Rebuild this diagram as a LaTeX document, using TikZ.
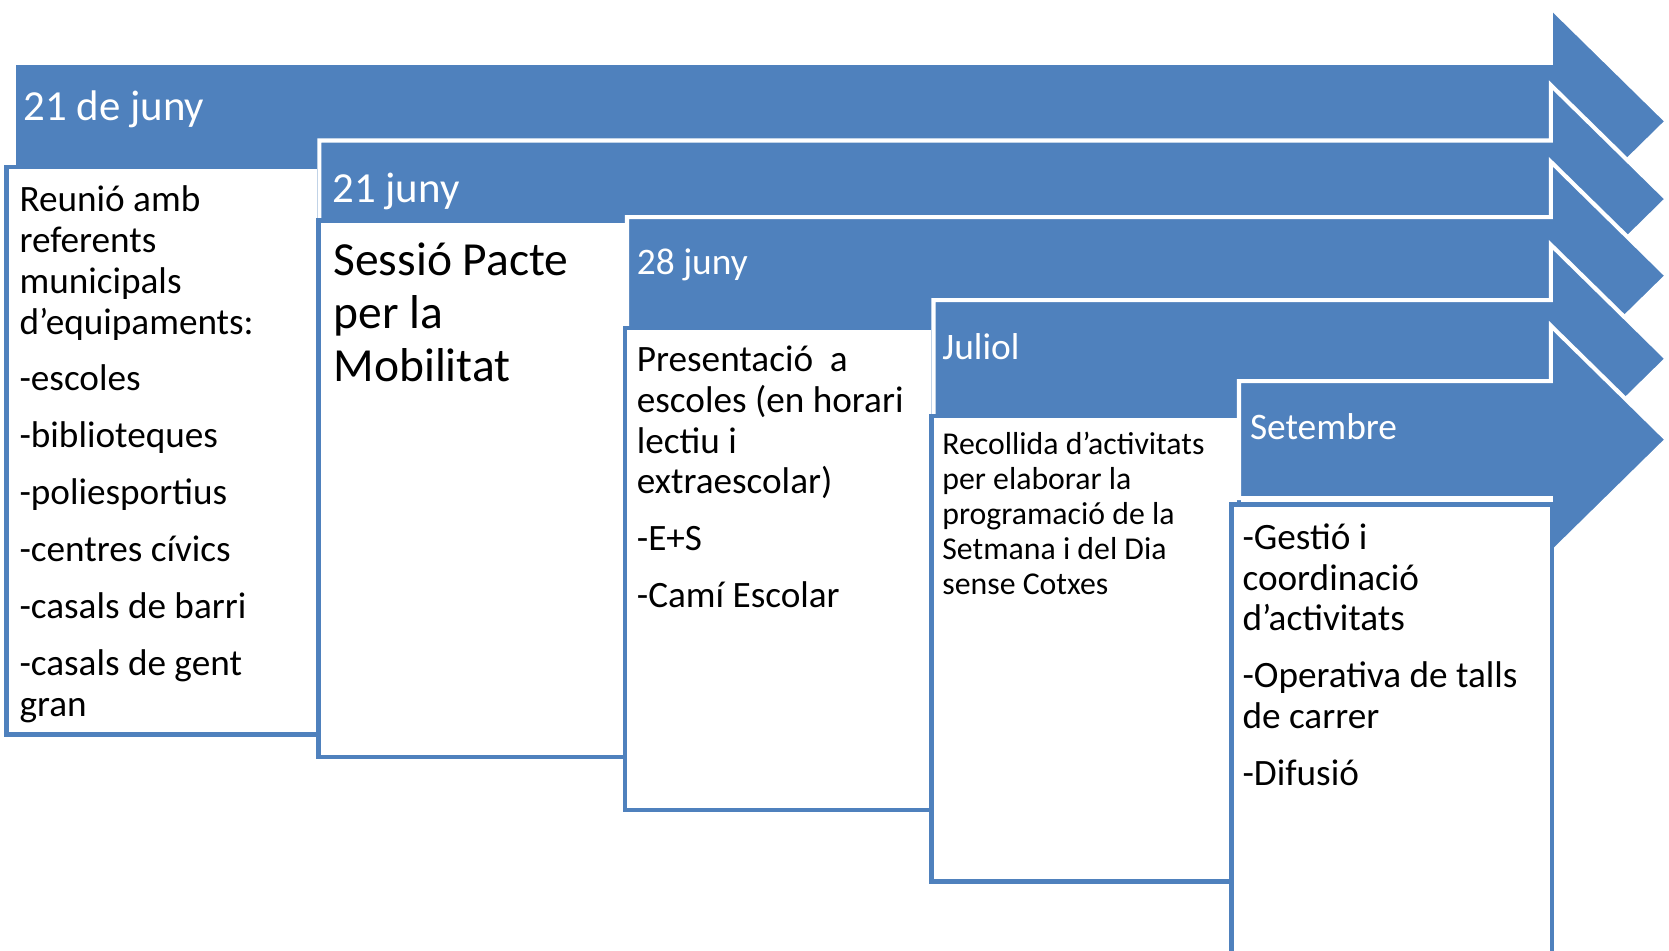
\documentclass[tikz,border=0pt]{standalone}
\usepackage{fontspec}
\setmainfont{Carlito}
\definecolor{stepblue}{HTML}{4F81BD}

\begin{document}
\begin{tikzpicture}[x=0.02cm,y=-0.02cm,
	stage/.style={fill=stepblue,draw=white,line width=2.2pt},
	card/.style={fill=white,draw=stepblue,line width=2.4pt},
	head/.style={anchor=base west,inner sep=0pt,text=white},
	body/.style={anchor=base west,inner sep=0pt,text width=5.5cm,align=left,
		execute at begin node={\spaceskip=0pt\xspaceskip=0pt\relax}}]
\useasboundingbox (0,0) rectangle (1568,893);
\clip (0,0) rectangle (1568,893);
% arrows and boxes, back to front
\foreach \l/\t/\c/\bl/\bt/\br/\bb in {13/59/114/6/157/300/690,
	300/132/187/299/207/589/711,
	589/204/259/587/308/877/761,
	877/282/337/875/391/1164/828,
	1164/358/413/1157/474/1458/910}{
	\draw[stage] (\l,\t) -- (1457,\t) -- (1457,{\c-107}) -- (1566,\c)
		-- (1457,{\c+107}) -- (1457,{2*\c-\t}) -- (\l,{2*\c-\t}) -- cycle;
	\draw[card] (\bl,\bt) rectangle (\br,\bb);
}
% headers
\node[head,font=\fontsize{22.9}{27}\selectfont] (h1) at (22,113) {21 de juny};
\node[head,font=\fontsize{22.9}{27}\selectfont] (h2) at (312,190) {21 juny};
\node[head,font=\fontsize{20}{24}\selectfont] (h3) at (598,258) {28 juny};
\node[head,font=\fontsize{20}{24}\selectfont] (h4) at (885,338) {Juliol};
\node[head,font=\fontsize{20}{24}\selectfont] (h5) at (1174,413) {Setembre};
% texts
\node[body,font=\fontsize{19.9}{21.8}\selectfont] (b1) at (18,199) {Reunió amb\\
	referents\\ municipals\\ d’equipaments:\\[8.6pt]
	-escoles\\[8.6pt] -biblioteques\\[8.6pt] -poliesportius\\[8.6pt]
	-centres cívics\\[8.6pt] -casals de barri\\[8.6pt] -casals de gent\\ gran};
\node[body,font=\fontsize{25.4}{28.3}\selectfont] (b2) at (313,259) {Sessió Pacte\\
	per la\\ Mobilitat};
\node[body,font=\fontsize{19.9}{21.8}\selectfont] (b3) at (598,349) {Presentació~~a\\
	escoles (en horari\\ lectiu i\\ extraescolar)\\[8.6pt]
	-E+S\\[8.6pt] -Camí Escolar};
\node[body,font=\fontsize{17}{18.7}\selectfont] (b4) at (885,427) {Recollida d’activitats\\
	per elaborar la\\ programació de la\\ Setmana i del Dia\\ sense Cotxes};
\node[body,font=\fontsize{19.9}{21.8}\selectfont] (b5) at (1167,516) {-Gestió i\\
	coordinació\\ d’activitats\\[8.6pt] -Operativa de talls\\ de carrer\\[8.6pt]
	-Difusió};
\end{tikzpicture}
\end{document}
